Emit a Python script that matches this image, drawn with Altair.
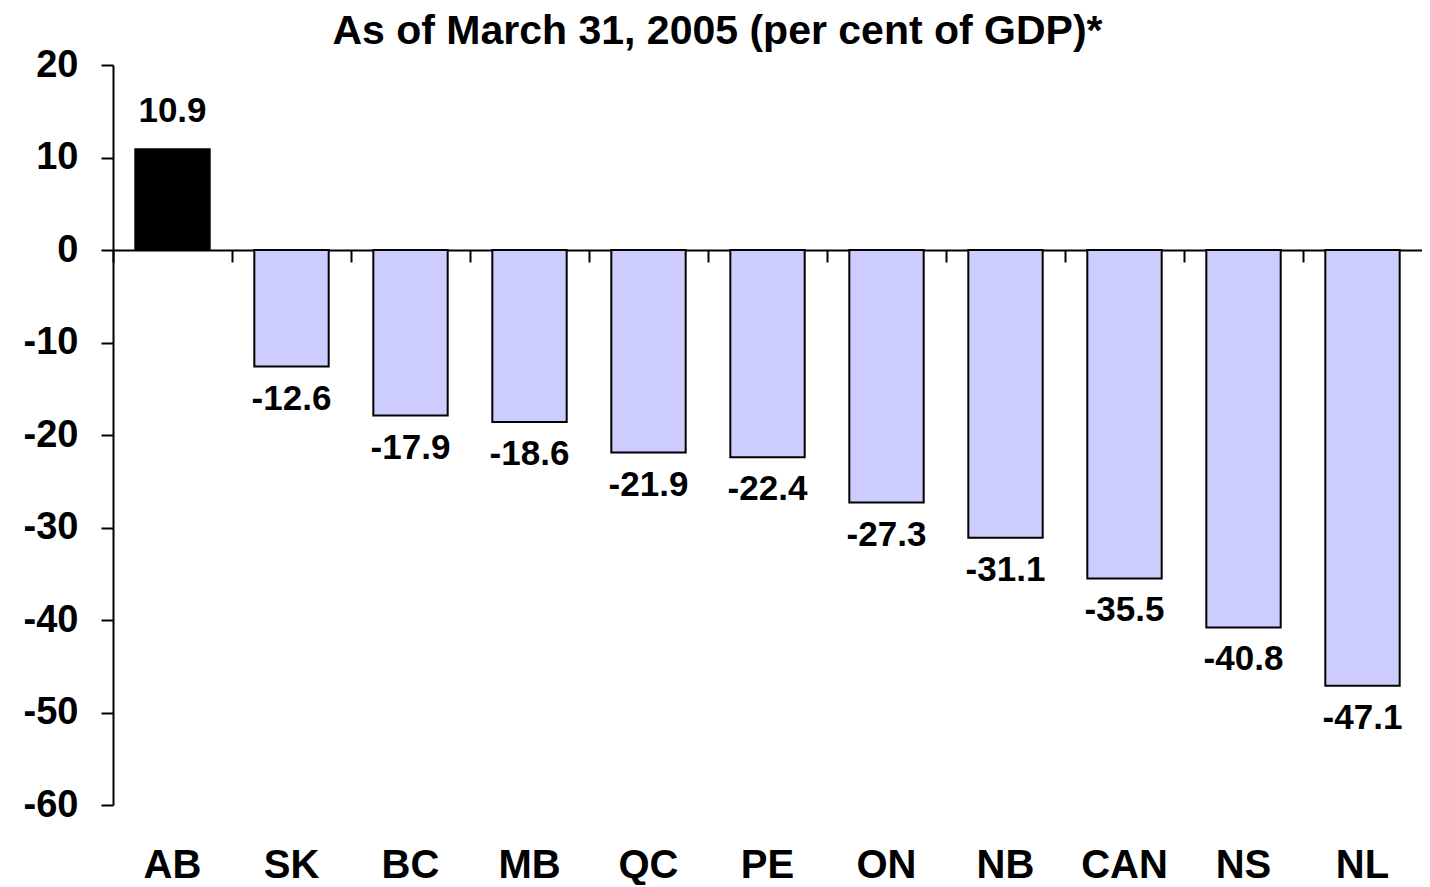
import altair as alt
import pandas as pd

provinces = ["AB", "SK", "BC", "MB", "QC", "PE", "ON", "NB", "CAN", "NS", "NL"]
values = [10.9, -12.6, -17.9, -18.6, -21.9, -22.4, -27.3, -31.1, -35.5, -40.8, -47.1]
y_ticks = [-60, -50, -40, -30, -20, -10, 0, 10, 20]

df = pd.DataFrame({"prov": provinces, "value": values})

FONT = "Liberation Sans"

x_scale = alt.Scale(domain=provinces, paddingInner=0, paddingOuter=0)
y_scale = alt.Scale(domain=[-60, 20], nice=False, zero=False)

y_enc = alt.Y(
    "value:Q",
    scale=y_scale,
    axis=alt.Axis(
        values=y_ticks, title=None, grid=False,
        domainColor="black", domainWidth=2,
        tickColor="black", tickWidth=2, tickSize=12,
        labelFont=FONT, labelFontSize=38, labelFontWeight="bold",
        labelColor="black", labelPadding=23,
        labelExpr="replace(format(datum.value, 'd'), '\u2212', '-')",
    ),
)

base = alt.Chart(df).transform_calculate(
    lbl="replace(format(datum.value, '.1f'), '\u2212', '-')"
)

bars = base.mark_bar(
    width=alt.RelativeBandSize(0.625), stroke="black", strokeWidth=2
).encode(
    x=alt.X(
        "prov:N", scale=x_scale, sort=provinces,
        axis=alt.Axis(
            orient="bottom", title=None, labels=False, grid=False,
            domainColor="black", domainWidth=2,
            ticks=True, tickColor="black", tickWidth=2, tickSize=12,
            bandPosition=0, offset=-555,
        ),
    ),
    y=y_enc,
    color=alt.condition(alt.datum.value > 0, alt.value("black"), alt.value("#CCCCFF")),
)

pos_text = base.transform_filter(alt.datum.value > 0).mark_text(
    font=FONT, fontSize=35, fontWeight="bold", baseline="alphabetic", dy=-27, color="black"
).encode(
    x=alt.X(
        "prov:N", scale=x_scale, sort=provinces,
        axis=alt.Axis(
            orient="bottom", title=None, domain=False, ticks=False, grid=False,
            labelFont=FONT, labelFontSize=40, labelFontWeight="bold",
            labelColor="black", labelPadding=40, labelAngle=0,
        ),
    ),
    y=y_enc,
    text=alt.Text("lbl:N"),
)

neg_text = base.transform_filter(alt.datum.value < 0).mark_text(
    font=FONT, fontSize=35, fontWeight="bold", baseline="top", dy=15, color="black"
).encode(
    x=alt.X("prov:N", scale=x_scale, sort=provinces, axis=None),
    y=y_enc,
    text=alt.Text("lbl:N"),
)

chart = alt.layer(bars, pos_text, neg_text).resolve_axis(x="independent").properties(
    width=1309,
    height=740,
    autosize="none",
    padding={"left": 105, "top": 57, "right": 0, "bottom": 80},
    view=alt.ViewBackground(stroke=None, strokeWidth=0),
    title=alt.Title(
        "As of March 31, 2005 (per cent of GDP)*",
        font=FONT, fontSize=41, fontWeight="bold", color="black",
        anchor="middle", dx=-50, offset=-7,
    ),
).configure_view(stroke=None, strokeWidth=0).configure(background="white")

chart.save("out.html", embed_options={"renderer": "svg", "actions": False})
